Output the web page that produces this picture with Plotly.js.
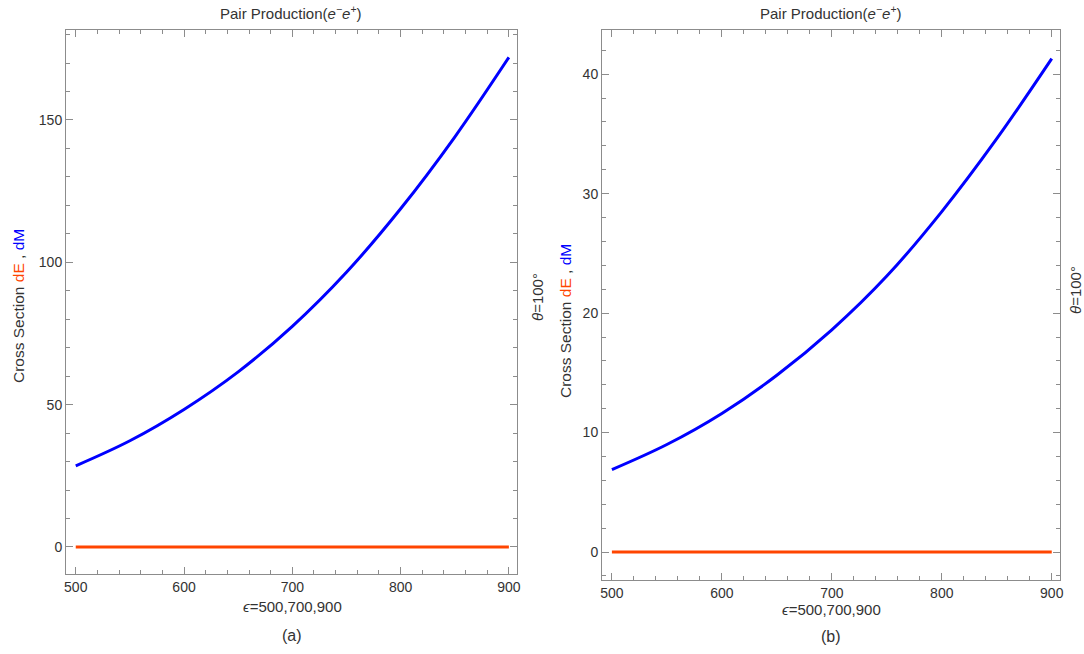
<!DOCTYPE html>
<html>
<head>
<meta charset="utf-8">
<script src="https://cdn.plot.ly/plotly-3.0.1.min.js"></script>
<style>html,body{margin:0;padding:0;background:#fff;}#chart{width:1084px;height:654px;}</style>
</head>
<body>
<div id="chart"></div>
<script>
// Data
const epsilon = [500, 550, 600, 650, 700, 750, 800, 850, 900];
const dM_a = [28.5, 37.3, 48.3, 61.5, 77.5, 96.5, 118.8, 144, 172];
const dE_a = [0, 0, 0, 0, 0, 0, 0, 0, 0];
const dM_b = [6.9, 9.0, 11.6, 14.8, 18.6, 23.1, 28.5, 34.6, 41.3];
const dE_b = [0, 0, 0, 0, 0, 0, 0, 0, 0];
const panelLabels = ["(a)", "(b)"];
const titleText = "Pair Production(<i>e</i><sup>−</sup><i>e</i><sup>+</sup>)";
const xLabel = "<i>ϵ</i>=500,700,900";
const angleLabel = "<i>θ</i>=100°";
const yLabel = 'Cross Section <span style="color:#FF4500">dE</span> , <span style="color:#0000FF">dM</span>';

const W = 1084, H = 654;
const px = x => x / W, py = y => 1 - y / H;
const fam = "Liberation Sans, Arial, sans-serif";
const mk = s => ({family: fam, size: s, color: "#333"});
const frameColor = "#8c8c8c";

function axisX(domain, anchor) {
  return {
    domain: domain, anchor: anchor, range: [491, 907.5],
    showline: true, linecolor: frameColor, linewidth: 1, mirror: "allticks",
    ticks: "inside", ticklen: 7, tickcolor: frameColor, dtick: 100, tick0: 0,
    minor: {ticks: "inside", ticklen: 4, tickcolor: frameColor, dtick: 20},
    showgrid: false, zeroline: false, tickfont: mk(14)
  };
}
function axisY(domain, anchor, range, dtick, mdtick) {
  return {
    domain: domain, anchor: anchor, range: range,
    showline: true, linecolor: frameColor, linewidth: 1, mirror: "allticks",
    ticks: "inside", ticklen: 7, tickcolor: frameColor, dtick: dtick, tick0: 0,
    minor: {ticks: "inside", ticklen: 4, tickcolor: frameColor, dtick: mdtick},
    showgrid: false, zeroline: false, tickfont: mk(14)
  };
}

const traces = [
  {x: epsilon, y: dE_a, xaxis: "x", yaxis: "y", mode: "lines", line: {color: "#FF4500", width: 3}},
  {x: epsilon, y: dM_a, xaxis: "x", yaxis: "y", mode: "lines", line: {color: "#0000FF", width: 3, shape: "spline"}},
  {x: epsilon, y: dE_b, xaxis: "x2", yaxis: "y2", mode: "lines", line: {color: "#FF4500", width: 3}},
  {x: epsilon, y: dM_b, xaxis: "x2", yaxis: "y2", mode: "lines", line: {color: "#0000FF", width: 3, shape: "spline"}}
];

function ann(text, x, y, size, extra) {
  return Object.assign({text: text, x: px(x), y: py(y), xref: "paper", yref: "paper",
    showarrow: false, xanchor: "center", yanchor: "middle", font: mk(size)}, extra || {});
}

const annotations = [
  ann(titleText, 291, 12, 15),
  ann(titleText, 831, 12, 15),
  ann(xLabel, 292, 606, 15),
  ann(xLabel, 831, 609, 15),
  ann(panelLabels[0], 292, 635, 16),
  ann(panelLabels[1], 831, 636, 16),
  ann(yLabel, 18, 306, 15.5, {textangle: -90}),
  ann(yLabel, 565, 321, 15.5, {textangle: -90}),
  ann(angleLabel, 537, 297, 15, {textangle: -90}),
  ann(angleLabel, 1076, 290, 15, {textangle: -90})
];

const layout = {
  width: W, height: H, margin: {l: 0, r: 0, t: 0, b: 0},
  paper_bgcolor: "#fff", plot_bgcolor: "#fff", showlegend: false,
  font: mk(14),
  xaxis: axisX([px(66), px(517)], "y"),
  yaxis: axisY([py(574), py(30)], "x", [-9.5, 181.6], 50, 10),
  xaxis2: axisX([px(602), px(1060)], "y2"),
  yaxis2: axisY([py(580), py(30)], "x2", [-2.34, 43.7], 10, 2),
  annotations: annotations
};

Plotly.newPlot("chart", traces, layout, {displayModeBar: false, staticPlot: true});
</script>
</body>
</html>
